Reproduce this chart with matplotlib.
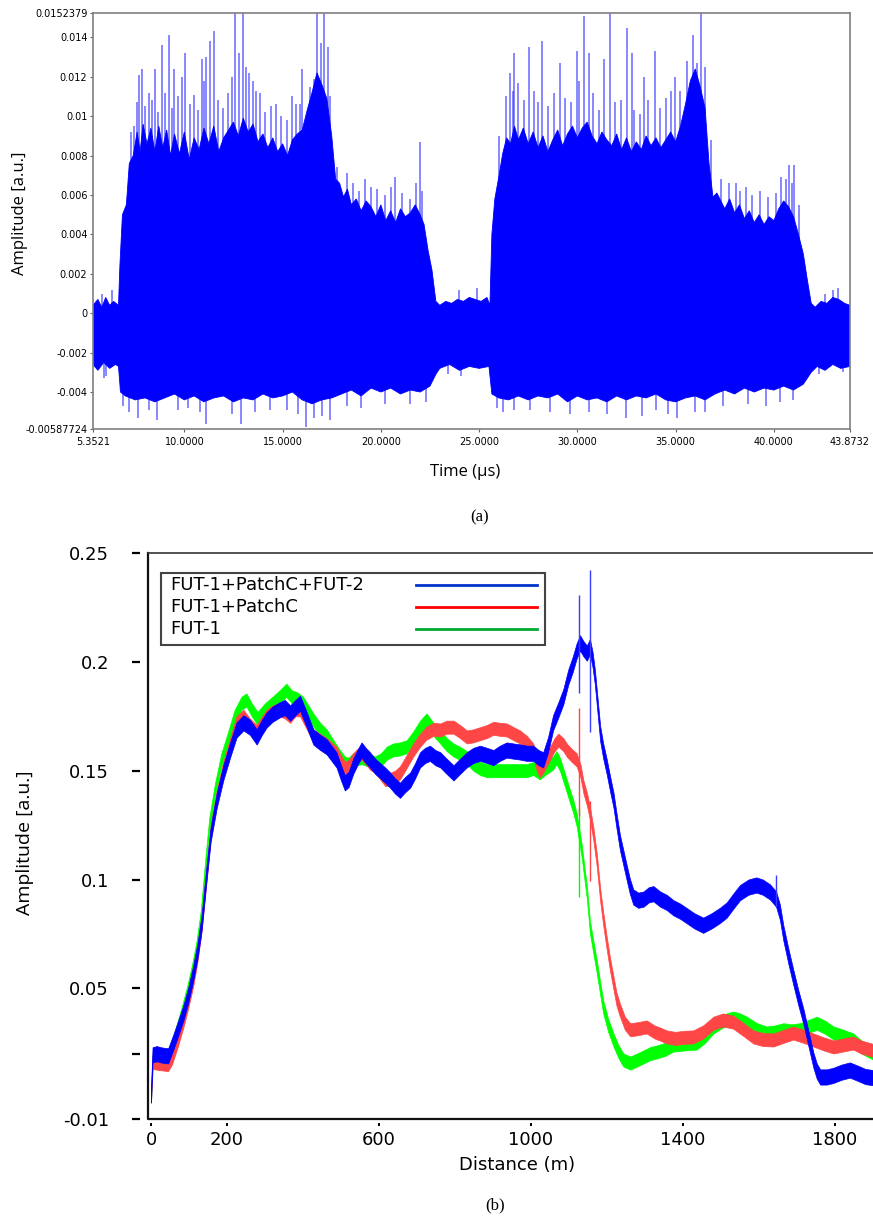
import numpy as np
import matplotlib
matplotlib.use('Agg')
import matplotlib.pyplot as plt
from matplotlib.patches import Rectangle

# ---------------- (a) photodetector trace ----------------
# top edge of the dense part of the trace
t_hi = [5.3521, 5.6, 5.8, 6.0, 6.2, 6.4, 6.65, 6.72, 6.85, 7.05, 7.2, 7.4, 7.6, 7.75, 7.9,
        8.1, 8.3, 8.5, 8.7, 8.9, 9.1, 9.3, 9.5, 9.75, 10.0, 10.25, 10.5, 10.75, 11.0,
        11.25, 11.5, 11.75, 12.0, 12.25, 12.5, 12.75, 13.0, 13.25, 13.5, 13.75, 14.0,
        14.25, 14.5, 14.75, 15.0, 15.25, 15.5, 15.75, 16.0, 16.25, 16.5, 16.75, 17.0,
        17.25, 17.5, 17.7, 17.9, 18.1, 18.3, 18.5, 18.75, 19.0, 19.25, 19.5, 19.75,
        20.0, 20.25, 20.5, 20.75, 21.0, 21.25, 21.5, 21.75, 22.0, 22.2, 22.4, 22.6,
        22.8, 23.0, 23.3, 23.6, 23.9, 24.2, 24.5, 24.8, 25.1, 25.4, 25.55, 25.65, 25.8,
        26.0, 26.2, 26.4, 26.6, 26.8, 27.0, 27.25, 27.5, 27.75, 28.0, 28.25, 28.5,
        28.75, 29.0, 29.25, 29.5, 29.75, 30.0, 30.25, 30.5, 30.75, 31.0, 31.25, 31.5,
        31.75, 32.0, 32.25, 32.5, 32.75, 33.0, 33.25, 33.5, 33.75, 34.0, 34.25, 34.5,
        34.75, 35.0, 35.25, 35.5, 35.75, 36.0, 36.25, 36.5, 36.7, 36.9, 37.1, 37.3,
        37.5, 37.75, 38.0, 38.25, 38.5, 38.75, 39.0, 39.25, 39.5, 39.75, 40.0, 40.25,
        40.5, 40.75, 41.0, 41.25, 41.5, 41.7, 41.9, 42.1, 42.4, 42.7, 43.0, 43.3, 43.6,
        43.8732]
a_hi = [0.0004, 0.0007, 0.0003, 0.0008, 0.0004, 0.0006, 0.0004, 0.0024, 0.0050, 0.0055,
        0.0076, 0.0080, 0.0092, 0.0082, 0.0096, 0.0086, 0.0094, 0.0082, 0.0095, 0.0084,
        0.0093, 0.0080, 0.0091, 0.0081, 0.0092, 0.0078, 0.0089, 0.0083, 0.0094, 0.0086,
        0.0095, 0.0082, 0.0089, 0.0093, 0.0097, 0.0090, 0.0099, 0.0092, 0.0096, 0.0087,
        0.0091, 0.0084, 0.0089, 0.0082, 0.0086, 0.0080, 0.0088, 0.0091, 0.0093, 0.0103,
        0.0112, 0.0122, 0.0116, 0.0109, 0.0090, 0.0068, 0.0066, 0.0059, 0.0063, 0.0055,
        0.0058, 0.0052, 0.0057, 0.0054, 0.0049, 0.0055, 0.0047, 0.0052, 0.0046, 0.0053,
        0.0049, 0.0051, 0.0055, 0.0050, 0.0045, 0.0032, 0.0022, 0.0006, 0.0004, 0.0006,
        0.0005, 0.0007, 0.0006, 0.0008, 0.0007, 0.0006, 0.0008, 0.0004, 0.0040, 0.0058,
        0.0069, 0.0081, 0.0089, 0.0086, 0.0095, 0.0088, 0.0094, 0.0086, 0.0092, 0.0084,
        0.0090, 0.0082, 0.0088, 0.0093, 0.0085, 0.0091, 0.0095, 0.0089, 0.0094, 0.0097,
        0.0090, 0.0086, 0.0092, 0.0088, 0.0085, 0.0091, 0.0083, 0.0089, 0.0082, 0.0087,
        0.0083, 0.0090, 0.0085, 0.0089, 0.0084, 0.0088, 0.0092, 0.0087, 0.0095, 0.0106,
        0.0118, 0.0124, 0.0115, 0.0104, 0.0076, 0.0059, 0.0061, 0.0057, 0.0053, 0.0058,
        0.0051, 0.0055, 0.0048, 0.0052, 0.0046, 0.0050, 0.0045, 0.0049, 0.0047, 0.0053,
        0.0057, 0.0054, 0.0049, 0.0040, 0.0030, 0.0017, 0.0005, 0.0003, 0.0006, 0.0005,
        0.0008, 0.0007, 0.0005, 0.0004]

# bottom edge of the dense part of the trace
t_lo = [5.3521, 5.6, 5.9, 6.2, 6.5, 6.65, 6.75, 7.0, 7.5, 8.0, 8.5, 9.0, 9.5, 10.0, 10.5,
        11.0, 11.5, 12.0, 12.5, 13.0, 13.5, 14.0, 14.5, 15.0, 15.5, 16.0, 16.5, 17.0,
        17.5, 18.0, 18.5, 19.0, 19.5, 20.0, 20.5, 21.0, 21.5, 22.0, 22.5, 22.8, 23.0,
        23.5, 24.0, 24.5, 25.0, 25.5, 25.65, 26.0, 26.5, 27.0, 27.5, 28.0, 28.5, 29.0,
        29.5, 30.0, 30.5, 31.0, 31.5, 32.0, 32.5, 33.0, 33.5, 34.0, 34.5, 35.0, 35.5,
        36.0, 36.5, 37.0, 37.5, 38.0, 38.5, 39.0, 39.5, 40.0, 40.5, 41.0, 41.5, 41.9,
        42.2, 42.6, 43.0, 43.4, 43.8732]
a_lo = [-0.0026, -0.0029, -0.0025, -0.0028, -0.0026, -0.0027, -0.0040, -0.0042, -0.0044,
        -0.0043, -0.0045, -0.0043, -0.0041, -0.0044, -0.0042, -0.0045, -0.0043, -0.0042,
        -0.0045, -0.0043, -0.0044, -0.0041, -0.0043, -0.0042, -0.0040, -0.0044, -0.0046,
        -0.0044, -0.0043, -0.0041, -0.0039, -0.0042, -0.0038, -0.0040, -0.0038, -0.0041,
        -0.0039, -0.0040, -0.0037, -0.0031, -0.0028, -0.0026, -0.0029, -0.0027, -0.0028,
        -0.0027, -0.0041, -0.0043, -0.0044, -0.0042, -0.0044, -0.0042, -0.0043, -0.0041,
        -0.0045, -0.0042, -0.0044, -0.0043, -0.0045, -0.0042, -0.0044, -0.0042, -0.0043,
        -0.0041, -0.0044, -0.0045, -0.0043, -0.0042, -0.0044, -0.0041, -0.0039, -0.0041,
        -0.0038, -0.0040, -0.0038, -0.0039, -0.0037, -0.0039, -0.0036, -0.0030, -0.0027,
        -0.0029, -0.0026, -0.0028, -0.0027]

# isolated peaks above / below the dense part
peak_t = [7.6, 7.85, 8.18, 8.5, 8.84, 9.2, 9.47, 10.03, 10.5, 10.92, 11.1, 11.3, 11.5,
          12.6, 12.8, 13.0, 13.3, 13.5, 13.85, 14.66, 15.7, 16.0, 16.6, 16.75, 16.95,
          17.1, 17.3, 17.76, 18.3, 19.5, 20.7, 21.5, 22.0,
          7.3, 7.45, 7.7, 8.0, 8.35, 8.65, 9.0, 9.35, 9.7, 9.9, 10.3, 10.7, 11.0, 11.7,
          11.95, 12.2, 12.45, 13.15, 13.65, 14.1, 14.4, 14.9, 15.2, 15.5, 15.9, 16.4,
          17.4, 18.6, 18.9, 19.2, 19.8, 20.2, 20.5, 21.1, 21.8, 22.1, 5.8, 6.3, 24.0, 24.9,
          26.58, 26.8, 27.54, 28.22, 29.12, 29.97, 30.36, 30.6, 31.33, 31.66, 32.55,
          32.77, 33.39, 33.95, 34.97, 35.87, 36.3, 36.52, 38.06, 38.58, 40.38, 40.79,
          41.03, 43.28,
          26.0, 26.35, 26.7, 27.0, 27.3, 27.8, 28.0, 28.5, 28.8, 29.35, 29.7, 30.1, 30.8,
          31.1, 31.9, 32.2, 32.9, 33.2, 33.6, 34.2, 34.5, 34.75, 35.2, 35.6, 36.1, 36.8,
          37.3, 37.7, 38.3, 38.9, 39.3, 39.7, 40.1, 40.6, 40.9, 41.3, 42.6, 43.0]
peak_top = [0.0107, 0.0124, 0.0112, 0.0124, 0.0136, 0.0141, 0.0124, 0.0132, 0.0111,
            0.0129, 0.0130, 0.0138, 0.0143, 0.0154, 0.0132, 0.0156, 0.0122, 0.0118,
            0.0112, 0.0106, 0.0106, 0.0124, 0.0119, 0.0153, 0.0137, 0.0156, 0.0135,
            0.0074, 0.0071, 0.0064, 0.0069, 0.0058, 0.0087,
            0.0092, 0.0095, 0.0121, 0.0105, 0.0108, 0.0102, 0.0112, 0.0104, 0.0110,
            0.0120, 0.0106, 0.0103, 0.0118, 0.0108, 0.0104, 0.0112, 0.0120, 0.0125,
            0.0113, 0.0102, 0.0105, 0.0100, 0.0098, 0.0110, 0.0106, 0.0115, 0.0110,
            0.0066, 0.0062, 0.0068, 0.0063, 0.0060, 0.0064, 0.0061, 0.0066, 0.0062,
            0.0010, 0.0012, 0.0012, 0.0013,
            0.0122, 0.0132, 0.0135, 0.0138, 0.0127, 0.0133, 0.0151, 0.0132, 0.0129,
            0.0156, 0.0145, 0.0132, 0.0120, 0.0133, 0.0120, 0.0141, 0.0153, 0.0125,
            0.0066, 0.0064, 0.0069, 0.0075, 0.0075, 0.0013,
            0.0090, 0.0110, 0.0113, 0.0117, 0.0108, 0.0113, 0.0107, 0.0105, 0.0112,
            0.0109, 0.0107, 0.0118, 0.0112, 0.0103, 0.0107, 0.0108, 0.0103, 0.0101,
            0.0108, 0.0104, 0.0109, 0.0113, 0.0113, 0.0128, 0.0127, 0.0088, 0.0068,
            0.0066, 0.0062, 0.0060, 0.0062, 0.0059, 0.0061, 0.0068, 0.0066, 0.0055,
            0.0010, 0.0012]
dip_t = [5.9, 6.0, 6.9, 7.2, 7.65, 8.2, 8.6, 9.7, 10.2, 10.8, 11.1, 12.4, 12.9, 13.6,
         14.35, 15.2, 15.8, 16.2, 16.6, 17.0, 17.4, 18.3, 19.0, 20.2, 21.5, 22.3, 23.4,
         24.1, 25.9, 26.2, 26.75, 27.6, 28.6, 29.6, 30.6, 31.5, 32.5, 33.3, 34.0, 34.6,
         35.09, 36.0, 36.5, 37.4, 38.7, 39.6, 40.3, 40.96, 42.3, 43.5]
dip_bot = [-0.0033, -0.0032, -0.0047, -0.0050, -0.0053, -0.0049, -0.0054, -0.0049,
           -0.0048, -0.0050, -0.0056, -0.0051, -0.0056, -0.0050, -0.0049, -0.0049,
           -0.0051, -0.0058, -0.0053, -0.0052, -0.0054, -0.0047, -0.0048, -0.0046,
           -0.0046, -0.0045, -0.0031, -0.0032, -0.0048, -0.0050, -0.0049, -0.0049,
           -0.0050, -0.0051, -0.0050, -0.0051, -0.0053, -0.0052, -0.0049, -0.0051,
           -0.0053, -0.0050, -0.0050, -0.0047, -0.0046, -0.0047, -0.0045, -0.0044,
           -0.0031, -0.0030]

a_xticks = [5.3521, 10, 15, 20, 25, 30, 35, 40, 43.8732]
a_xticklabels = ['5.3521', '10.0000', '15.0000', '20.0000', '25.0000', '30.0000',
                 '35.0000', '40.0000', '43.8732']
a_yticks = [-0.00587724, -0.004, -0.002, 0, 0.002, 0.004, 0.006, 0.008, 0.01, 0.012,
            0.014, 0.0152379]
a_yticklabels = ['-0.00587724', '-0.004', '-0.002', '0', '0.002', '0.004', '0.006',
                 '0.008', '0.01', '0.012', '0.014', '0.0152379']

# ---------------- (b) distance traces ----------------
d_blue = [0, 4, 15, 25, 35, 45, 59, 72, 85, 98, 111, 122, 133, 146, 157, 173, 190, 208,
          225, 243, 260, 278, 292, 304, 320, 339, 352, 366, 380, 392, 410, 427, 445, 462,
          475, 488, 500, 510, 520, 532, 543, 554, 565, 576, 590, 603, 616, 629, 642, 655,
          668, 682, 695, 708, 721, 734, 748, 761, 778, 796, 813, 831, 848, 866, 884, 901,
          918, 936, 954, 971, 989, 1006, 1020, 1032, 1045, 1058, 1072, 1085, 1098, 1110,
          1120, 1129, 1138, 1147, 1155, 1162, 1168, 1175, 1182, 1190, 1199, 1208, 1217,
          1225, 1234, 1243, 1252, 1260, 1269, 1282, 1296, 1310, 1322, 1340, 1357, 1375,
          1392, 1409, 1430, 1453, 1475, 1497, 1515, 1532, 1550, 1572, 1593, 1610, 1629,
          1645, 1655, 1664, 1677, 1690, 1703, 1717, 1730, 1743, 1752, 1761, 1778, 1795,
          1817, 1839, 1860, 1880, 1900]
v_blue = [0.001, 0.0195, 0.020, 0.0195, 0.0192, 0.019, 0.0255, 0.032, 0.0387, 0.047,
          0.057, 0.067, 0.080, 0.103, 0.121, 0.1365, 0.149, 0.1595, 0.1687, 0.172, 0.170,
          0.1655, 0.170, 0.1733, 0.176, 0.178, 0.179, 0.1765, 0.179, 0.181, 0.1733,
          0.1655, 0.163, 0.161, 0.158, 0.155, 0.149, 0.1444, 0.146, 0.152, 0.156, 0.1595,
          0.157, 0.155, 0.152, 0.150, 0.148, 0.1457, 0.143, 0.141, 0.1435, 0.1457, 0.150,
          0.155, 0.157, 0.158, 0.156, 0.155, 0.152, 0.149, 0.152, 0.155, 0.157, 0.158,
          0.157, 0.156, 0.158, 0.1595, 0.159, 0.1586, 0.158, 0.158, 0.156, 0.155, 0.162,
          0.172, 0.178, 0.184, 0.193, 0.199, 0.205, 0.2087, 0.206, 0.204, 0.207, 0.201,
          0.193, 0.180, 0.167, 0.159, 0.152, 0.144, 0.1365, 0.127, 0.117, 0.110, 0.103,
          0.097, 0.092, 0.0905, 0.091, 0.093, 0.0935, 0.091, 0.0895, 0.087, 0.0855,
          0.0835, 0.081, 0.079, 0.081, 0.0835, 0.086, 0.090, 0.094, 0.0965, 0.0975,
          0.0965, 0.0943, 0.091, 0.085, 0.0755, 0.065, 0.0553, 0.046, 0.037, 0.027,
          0.0171, 0.012, 0.0093, 0.0093, 0.010, 0.0115, 0.0125, 0.011, 0.0095, 0.009]

d_red = [0, 4, 20, 35, 45, 55, 70, 85, 98, 111, 122, 133, 146, 157, 173, 190, 208, 225,
         243, 260, 278, 292, 304, 320, 339, 352, 366, 380, 392, 410, 427, 445, 462, 475,
         488, 500, 510, 520, 532, 543, 554, 565, 576, 590, 603, 616, 629, 642, 655, 672,
         690, 708, 725, 743, 761, 778, 796, 813, 831, 848, 866, 884, 901, 918, 936, 954,
         971, 989, 1006, 1015, 1023, 1032, 1041, 1050, 1062, 1072, 1085, 1094, 1107,
         1120, 1130, 1138, 1147, 1155, 1164, 1173, 1182, 1190, 1199, 1208, 1217, 1225,
         1234, 1247, 1261, 1282, 1304, 1325, 1340, 1357, 1380, 1400, 1427, 1453, 1480,
         1505, 1532, 1560, 1585, 1610, 1638, 1665, 1690, 1717, 1743, 1770, 1796, 1822,
         1848, 1870, 1900]
v_red = [0.001, 0.016, 0.0155, 0.0152, 0.0150, 0.018, 0.026, 0.035, 0.044, 0.054, 0.065,
         0.079, 0.102, 0.122, 0.138, 0.151, 0.162, 0.172, 0.175, 0.171, 0.168, 0.172,
         0.175, 0.177, 0.178, 0.177, 0.175, 0.178, 0.178, 0.172, 0.166, 0.164, 0.162,
         0.160, 0.158, 0.154, 0.151, 0.152, 0.155, 0.157, 0.158, 0.156, 0.1535, 0.152,
         0.149, 0.146, 0.146, 0.147, 0.149, 0.154, 0.1595, 0.164, 0.1673, 0.169, 0.1687,
         0.170, 0.170, 0.168, 0.1655, 0.166, 0.167, 0.168, 0.1695, 0.169, 0.1687, 0.167,
         0.1655, 0.163, 0.1595, 0.153, 0.150, 0.152, 0.155, 0.158, 0.162, 0.164, 0.162,
         0.1595, 0.157, 0.155, 0.150, 0.1425, 0.137, 0.1306, 0.121, 0.109, 0.093, 0.082,
         0.071, 0.061, 0.0525, 0.045, 0.040, 0.034, 0.031, 0.0315, 0.0323, 0.030, 0.029,
         0.0277, 0.027, 0.0275, 0.0277, 0.030, 0.034, 0.0355, 0.0345, 0.031, 0.0277,
         0.0265, 0.0263, 0.028, 0.0295, 0.028, 0.0263, 0.0245, 0.0231, 0.024, 0.0249,
         0.023, 0.0215]

d_green = [0, 4, 20, 35, 45, 52, 65, 80, 95, 108, 120, 131, 142, 153, 168, 185, 203, 220,
           238, 251, 265, 280, 300, 320, 339, 356, 370, 385, 400, 414, 427, 445, 462, 480,
           495, 510, 520, 532, 554, 570, 589, 605, 620, 637, 655, 673, 690, 708, 725, 743,
           761, 778, 796, 813, 831, 848, 866, 884, 910, 936, 960, 989, 1006, 1023, 1041,
           1058, 1067, 1076, 1085, 1094, 1103, 1112, 1120, 1133, 1147, 1155, 1164, 1173,
           1182, 1190, 1203, 1217, 1230, 1243, 1261, 1278, 1296, 1313, 1331, 1353, 1375,
           1405, 1436, 1458, 1480, 1505, 1532, 1550, 1568, 1595, 1620, 1642, 1664, 1686,
           1708, 1730, 1752, 1775, 1796, 1822, 1848, 1870, 1900]
v_green = [0.001, 0.0165, 0.016, 0.0162, 0.0165, 0.021, 0.029, 0.038, 0.048, 0.058,
           0.069, 0.083, 0.105, 0.125, 0.141, 0.155, 0.165, 0.175, 0.181, 0.1825, 0.178,
           0.174, 0.178, 0.181, 0.184, 0.187, 0.184, 0.183, 0.181, 0.177, 0.1733, 0.169,
           0.166, 0.161, 0.157, 0.1535, 0.153, 0.155, 0.156, 0.155, 0.1535, 0.155, 0.158,
           0.1595, 0.160, 0.161, 0.165, 0.170, 0.1733, 0.169, 0.1655, 0.162, 0.1595,
           0.158, 0.156, 0.153, 0.151, 0.150, 0.150, 0.150, 0.150, 0.150, 0.151, 0.149,
           0.1515, 0.1535, 0.156, 0.153, 0.148, 0.143, 0.138, 0.133, 0.1275, 0.1136,
           0.094, 0.0782, 0.069, 0.060, 0.050, 0.0415, 0.033, 0.0263, 0.021, 0.0171,
           0.0157, 0.017, 0.0185, 0.020, 0.0208, 0.022, 0.024, 0.0245, 0.0249, 0.028,
           0.0323, 0.035, 0.0364, 0.0355, 0.034, 0.031, 0.0295, 0.030, 0.031, 0.0305,
           0.031, 0.0325, 0.034, 0.032, 0.0295, 0.028, 0.0263, 0.023, 0.0203]

# short glitches near the splice
glitch_d = [1127, 1155, 1645]
glitch_blue = [(0.1857, 0.2307), (0.168, 0.242), (0.088, 0.102)]
glitch_red = [(0.129, 0.179), (0.0995, 0.136)]
glitch_green = [(0.092, 0.133)]

labels_b = ['FUT-1+PatchC+FUT-2', 'FUT-1+PatchC', 'FUT-1']
b_xticks = [0, 200, 600, 1000, 1400, 1800]
b_yticks = [-0.01, 0.02, 0.05, 0.1, 0.15, 0.2, 0.25]
b_yticklabels = ['-0.01', '', '0.05', '0.1', '0.15', '0.2', '0.25']

W, H = 873, 1217
fig = plt.figure(figsize=(W / 100, H / 100), dpi=100)

# ---- panel (a)
ax1 = fig.add_axes([93 / W, 1 - 429 / H, (850 - 93) / W, (429 - 13) / H])
ax1.vlines(peak_t, 0, peak_top, color='#2a2aff', lw=1.1, alpha=0.7, zorder=1)
ax1.vlines(dip_t, dip_bot, 0, color='#2a2aff', lw=1.1, alpha=0.7, zorder=1)
ax1.fill(np.r_[t_hi, t_lo[::-1]], np.r_[a_hi, a_lo[::-1]], color='#0000ff', lw=0.6,
         zorder=2)
ax1.set_xlim(5.3521, 43.8732)
ax1.set_ylim(-0.00587724, 0.0152379)
ax1.set_xticks(a_xticks)
ax1.set_xticklabels(a_xticklabels)
ax1.set_yticks(a_yticks)
ax1.set_yticklabels(a_yticklabels)
for s in ax1.spines.values():
    s.set_color('#808080')
    s.set_linewidth(1.2)
ax1.tick_params(axis='both', labelsize=7, length=2.5, width=0.8, color='#606060',
                pad=1.5)
ax1.tick_params(axis='x', pad=3)

fig.text(20 / W, 1 - 213 / H, 'Amplitude [a.u.]', rotation=90, ha='center',
         va='center', fontsize=12, family='Open Sans')
fig.text(465 / W, 1 - 472 / H, 'Time (\u03bcs)', ha='center', va='center',
         fontsize=12, family='Open Sans')
fig.text(480 / W, 1 - 517 / H, '(a)', ha='center', va='center', fontsize=12,
         family='Liberation Serif')

# ---- panel (b)
ax2 = fig.add_axes([148 / W, 1 - 1119 / H, (W - 148) / W, (1119 - 553) / H])
ax2.fill_between(d_green, np.array(v_green) - 0.003, np.array(v_green) + 0.003,
                 color='#00ff00', lw=0.5, zorder=2)
ax2.fill_between(d_red, np.array(v_red) - 0.003, np.array(v_red) + 0.003,
                 color='#ff4646', lw=0.5, zorder=3)
ax2.fill_between(d_blue, np.array(v_blue) - 0.0035, np.array(v_blue) + 0.0035,
                 color='#0000ff', lw=0.5, zorder=4)
ax2.vlines(glitch_d[:1], [g[0] for g in glitch_green], [g[1] for g in glitch_green],
           color='#00ff00', lw=1.0, zorder=2)
ax2.vlines(glitch_d[:2], [g[0] for g in glitch_red], [g[1] for g in glitch_red],
           color='#ff4646', lw=1.0, zorder=3)
ax2.vlines(glitch_d, [g[0] for g in glitch_blue], [g[1] for g in glitch_blue],
           color='#3b3bff', lw=1.0, zorder=4)

ax2.set_xlim(-8, 1900)
ax2.set_ylim(-0.01, 0.25)
ax2.set_xticks(b_xticks)
ax2.set_xticklabels([str(x) for x in b_xticks])
ax2.set_yticks(b_yticks)
ax2.set_yticklabels(b_yticklabels)
ax2.spines['left'].set_position(('outward', 6))
ax2.spines['bottom'].set_position(('outward', 3))
for s in ax2.spines.values():
    s.set_visible(False)
# frame drawn at the axes edge, ticks stay detached
ax2.plot([0, 0, 1], [1, 0, 0], transform=ax2.transAxes, color='#111111', lw=1.6,
         clip_on=False, zorder=6)
ax2.plot([0, 1], [1, 1], transform=ax2.transAxes, color='#333333', lw=1.2,
         clip_on=False, zorder=6)
ax2.tick_params(axis='y', labelsize=13, length=6, width=1.6, pad=16)
ax2.tick_params(axis='x', labelsize=13, length=2.5, width=1.4, pad=3)

# legend box
ax2.add_patch(Rectangle((13 / 725, (1119 - 645) / 566), 384 / 725, 72 / 566,
                        transform=ax2.transAxes, fill=False, ec='#444444', lw=1.5,
                        zorder=7))
leg_colors = ['#0033cc', '#ff0000', '#00aa33']
for i, (lab, c) in enumerate(zip(labels_b, leg_colors)):
    yy = (1119 - (585 + 22 * i)) / 566
    ax2.text(22 / 725, yy, lab, transform=ax2.transAxes, fontsize=13, va='center',
             ha='left', zorder=7)
    ax2.plot([268 / 725, 389 / 725], [yy, yy], transform=ax2.transAxes, color=c,
             lw=2, zorder=7)

fig.text(25 / W, 1 - 843 / H, 'Amplitude [a.u.]', rotation=90, ha='center',
         va='center', fontsize=14, family=['Liberation Sans Narrow', 'Open Sans'])
fig.text(517 / W, 1 - 1165 / H, 'Distance (m)', ha='center', va='center', fontsize=13)
fig.text(495 / W, 1 - 1205 / H, '(b)', ha='center', va='center', fontsize=12,
         family='Liberation Serif')

fig.savefig('out.png', dpi=100)
